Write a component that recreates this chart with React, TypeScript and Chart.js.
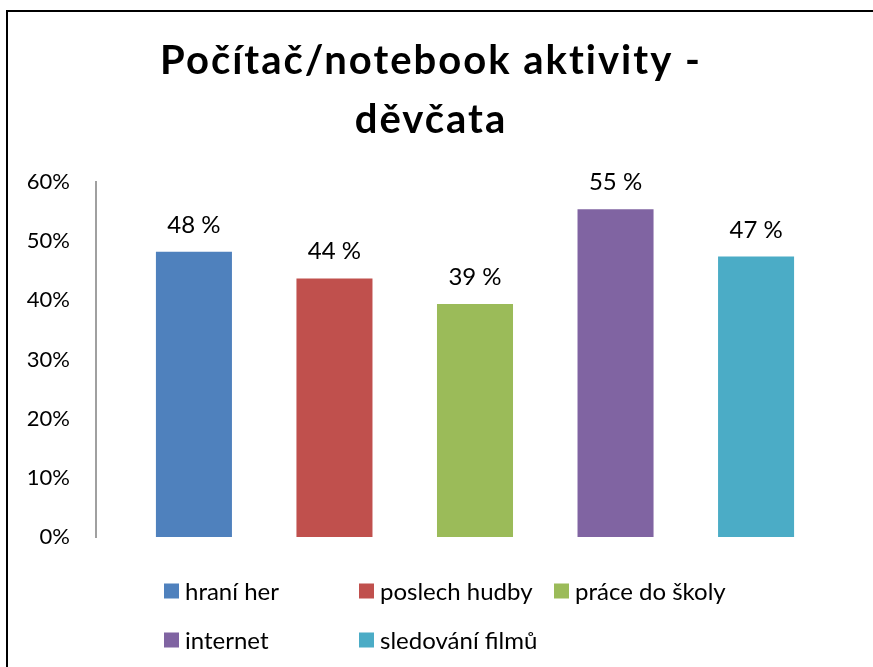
import React, { useEffect, useRef } from "react";
import { Chart, registerables } from "chart.js";

Chart.register(...registerables);

const titleLines = ["Počítač/notebook aktivity -", "děvčata"];
const categoryLabels = [""];
const seriesNames = ["hraní her", "poslech hudby", "práce do školy", "internet", "sledování filmů"];
const seriesValues = [0.482, 0.437, 0.394, 0.554, 0.474];
const seriesColors = ["#4F81BD", "#C0504D", "#9BBB59", "#8064A2", "#4BACC6"];
const yMin = 0;
const yMax = 0.6;
const yStep = 0.1;

const FONT = "Lato, 'Open Sans', sans-serif";

const framePlugin = {
  id: "frameAndTitle",
  beforeDraw(chart: any) {
    const ctx = chart.ctx;
    ctx.save();
    ctx.fillStyle = "#ffffff";
    ctx.fillRect(0, 0, chart.width, chart.height);
    ctx.strokeStyle = "#000000";
    ctx.lineWidth = 2;
    ctx.strokeRect(7, 11, chart.width + 20, chart.height + 20);
    ctx.fillStyle = "#000000";
    ctx.font = `bold 40px ${FONT}`;
    try {
      (ctx as any).letterSpacing = "2px";
    } catch (e) {}
    ctx.textAlign = "center";
    ctx.textBaseline = "alphabetic";
    const baselines = [74, 133];
    titleLines.forEach((t, i) => ctx.fillText(t, 431, baselines[i]));
    ctx.restore();
  },
};

const valueLabelPlugin = {
  id: "valueLabels",
  afterDatasetsDraw(chart: any) {
    const ctx = chart.ctx;
    ctx.save();
    ctx.fillStyle = "#000000";
    ctx.font = `24px ${FONT}`;
    ctx.textAlign = "center";
    ctx.textBaseline = "alphabetic";
    chart.data.datasets.forEach((ds: any, i: number) => {
      const meta = chart.getDatasetMeta(i);
      meta.data.forEach((el: any, j: number) => {
        const v = ds.data[j];
        ctx.fillText(`${Math.round(v * 100)} %`, el.x, el.y - 19);
      });
    });
    ctx.restore();
  },
};

const legendPlugin = {
  id: "gridLegend",
  afterDraw(chart: any) {
    const ctx = chart.ctx;
    ctx.save();
    ctx.font = `24px ${FONT}`;
    ctx.textAlign = "left";
    ctx.textBaseline = "middle";
    const perRow = 3;
    const startX = 164;
    const colW = 195;
    const rowY = [591, 640];
    const box = 15;
    chart.data.datasets.forEach((ds: any, i: number) => {
      const col = i % perRow;
      const row = Math.floor(i / perRow);
      const x = startX + col * colW;
      const y = rowY[row];
      ctx.fillStyle = ds.backgroundColor;
      ctx.fillRect(x, y - box / 2, box, box);
      ctx.fillStyle = "#000000";
      ctx.fillText(ds.label, x + 21, y + 1);
    });
    ctx.restore();
  },
};

export default function App() {
  const canvasRef = useRef<HTMLCanvasElement | null>(null);

  useEffect(() => {
    if (!canvasRef.current) return;
    const chart = new Chart(canvasRef.current, {
      type: "bar",
      data: {
        labels: categoryLabels,
        datasets: seriesNames.map((name, i) => ({
          label: name,
          data: [seriesValues[i]],
          backgroundColor: seriesColors[i],
          borderWidth: 0,
          categoryPercentage: 0.927,
          barPercentage: 0.541,
        })),
      },
      options: {
        animation: false,
        responsive: false,
        devicePixelRatio: 1,
        layout: { padding: { top: 182, bottom: 130, left: 0, right: 19 } },
        plugins: {
          legend: { display: false },
          title: { display: false },
          tooltip: { enabled: false },
        },
        scales: {
          x: { display: false },
          y: {
            min: yMin,
            max: yMax,
            afterFit: (s: any) => {
              s.width = 96;
            },
            grid: { display: false, drawTicks: false },
            border: { display: true, color: "#a0a0a0", width: 2 },
            ticks: {
              stepSize: yStep,
              padding: 26,
              color: "#000000",
              font: { family: FONT, size: 22 },
              callback: (v: any) => `${Math.round(Number(v) * 100)}%`,
            },
          },
        },
      },
      plugins: [framePlugin, valueLabelPlugin, legendPlugin],
    });
    return () => chart.destroy();
  }, []);

  return (
    <div style={{ position: "absolute", left: 0, top: 0, width: 873, height: 667, background: "#fff" }}>
      <canvas ref={canvasRef} width={873} height={667} style={{ display: "block" }} />
    </div>
  );
}
